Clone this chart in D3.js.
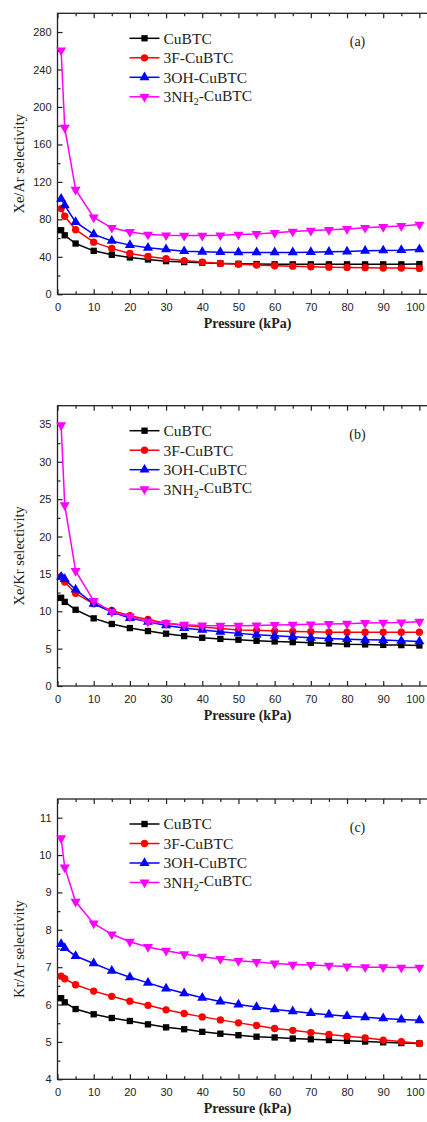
<!DOCTYPE html>
<html>
<head>
<meta charset="utf-8">
<script src="https://cdnjs.cloudflare.com/ajax/libs/d3/7.8.5/d3.min.js"></script>
<style>
  body { margin: 0; background: #fff; }
  svg { display: block; }
</style>
</head>
<body>
<div id="main"></div>
<script>
var pressure = [1, 2, 5, 10, 15, 20, 25, 30, 35, 40, 45, 50, 55, 60, 65, 70, 75, 80, 85, 90, 95, 100];
var names = ["CuBTC", "3F-CuBTC", "3OH-CuBTC", "3NH2-CuBTC"];

// (a) Xe/Ar
var xeArCu  = [68.4, 63, 54.2, 46.4, 42.2, 39.3, 37.2, 35.4, 34.4, 33.7, 33, 32.6, 32.3, 32, 32, 32, 32, 32, 32, 32, 32, 32.3];
var xeArF   = [91.5, 83.3, 69, 55.7, 49, 43.6, 40.4, 38, 36, 34.4, 33, 32, 31.2, 30.5, 30, 29.4, 29, 28.7, 28.4, 28, 28, 27.6];
var xeArOH  = [102, 95, 77, 64, 57, 52.5, 49.6, 47.9, 46, 45.4, 45, 44.7, 44.7, 44.7, 44.7, 45, 45.4, 45.7, 46.4, 46.8, 47.1, 47.9];
var xeArNH2 = [260.5, 178, 111.7, 82, 71, 66.6, 63.8, 63, 62.7, 62.7, 63, 63.8, 64.5, 65.6, 67, 68, 68.8, 69.8, 71, 72, 73, 74.4];

// (b) Xe/Kr
var xeKrCu  = [11.8, 11.25, 10.2, 9.05, 8.3, 7.75, 7.35, 7.0, 6.68, 6.45, 6.3, 6.19, 6.05, 5.96, 5.87, 5.78, 5.7, 5.6, 5.56, 5.5, 5.47, 5.42];
var xeKrF   = [14.6, 13.9, 12.4, 11.0, 10.1, 9.4, 8.9, 8.4, 8.1, 7.9, 7.7, 7.5, 7.45, 7.35, 7.3, 7.26, 7.2, 7.2, 7.2, 7.2, 7.2, 7.2];
var xeKrOH  = [14.6, 14.3, 12.9, 11.0, 9.9, 9.1, 8.6, 8.1, 7.75, 7.5, 7.26, 7.04, 6.86, 6.72, 6.6, 6.45, 6.36, 6.27, 6.19, 6.14, 6.05, 5.96];
var xeKrNH2 = [34.9, 24.2, 15.4, 11.4, 9.9, 9.3, 8.6, 8.4, 8.2, 8.1, 8.07, 8.07, 8.1, 8.16, 8.2, 8.25, 8.3, 8.34, 8.43, 8.47, 8.5, 8.6];

// (c) Kr/Ar
var krArCu  = [6.17, 6.06, 5.88, 5.74, 5.64, 5.56, 5.47, 5.39, 5.34, 5.27, 5.22, 5.18, 5.14, 5.12, 5.09, 5.07, 5.05, 5.03, 5.01, 4.99, 4.97, 4.96];
var krArF   = [6.76, 6.69, 6.53, 6.36, 6.22, 6.09, 5.98, 5.86, 5.76, 5.67, 5.59, 5.51, 5.44, 5.36, 5.31, 5.25, 5.2, 5.15, 5.11, 5.05, 5.01, 4.96];
var krArOH  = [7.62, 7.51, 7.3, 7.1, 6.9, 6.73, 6.58, 6.43, 6.3, 6.18, 6.08, 6.0, 5.93, 5.87, 5.82, 5.77, 5.73, 5.69, 5.66, 5.63, 5.6, 5.58];
var krArNH2 = [10.45, 9.67, 8.75, 8.17, 7.88, 7.68, 7.54, 7.44, 7.35, 7.28, 7.22, 7.17, 7.14, 7.1, 7.07, 7.06, 7.04, 7.02, 7.0, 7.0, 6.99, 6.99];

var xTicks = [0, 10, 20, 30, 40, 50, 60, 70, 80, 90, 100];
var yTicksA = [0, 40, 80, 120, 160, 200, 240, 280];
var yTicksB = [0, 5, 10, 15, 20, 25, 30, 35];
var yTicksC = [4, 5, 6, 7, 8, 9, 10, 11];

var colors = ["#000000", "#ff0000", "#0000ff", "#ff00ff"];
var symbols = [d3.symbolSquare, d3.symbolCircle, d3.symbolTriangle, d3.symbolTriangle];
var symSizes = [40, 42, 44, 44];

var outerWidth = 427;
var outerHeight = 1122;
var marginLeft = 57.5;
var innerWidth = 380;   // frame runs past the right edge, as in the original crop

var svg = d3.select("#main")
    .append("svg")
    .attr("width", outerWidth)
    .attr("height", outerHeight);

var xScale = d3.scaleLinear().domain([0, 105]).range([0, innerWidth]);
var serif = "'Liberation Serif', 'Times New Roman', serif";

function drawPanel(top, bottom, yDomain, yTicks, yMinor, yLabel, tag, series) {
    var innerHeight = bottom - top;
    var yScale = d3.scaleLinear().domain(yDomain).range([innerHeight, 0]);

    var g = svg.append("g")
        .attr("transform", "translate(" + marginLeft + "," + top + ")");

    g.append("rect")
        .attr("width", innerWidth)
        .attr("height", innerHeight)
        .attr("fill", "none")
        .attr("stroke", "#222")
        .attr("stroke-width", 1.3);

    var xMinor = d3.range(5, 105, 10);

    // ticks all point inward
    var xAxisG = g.append("g")
        .attr("transform", "translate(0," + innerHeight + ")")
        .call(d3.axisBottom(xScale).tickValues(xTicks).tickSize(-5).tickPadding(9));
    xAxisG.append("g").call(d3.axisBottom(xScale).tickValues(xMinor).tickSize(-3).tickFormat(""));
    // last label sits at the page edge: right-align it so it stays readable
    xAxisG.selectAll(".tick text").filter(d => d == 100)
        .attr("text-anchor", "end")
        .attr("x", outerWidth - marginLeft - 3 - xScale(100));

    var topG = g.append("g")
        .call(d3.axisTop(xScale).tickValues(xTicks).tickSize(-5).tickFormat(""));
    topG.append("g").call(d3.axisTop(xScale).tickValues(xMinor).tickSize(-3).tickFormat(""));

    var yAxisG = g.append("g")
        .call(d3.axisLeft(yScale).tickValues(yTicks).tickSize(-5).tickPadding(6));
    yAxisG.append("g").call(d3.axisLeft(yScale).tickValues(yMinor).tickSize(-3).tickFormat(""));

    g.selectAll(".domain").remove();
    g.selectAll(".tick text").filter(function(){ return this.textContent == ""; }).remove();
    g.selectAll(".tick line").attr("stroke", "#222").attr("stroke-width", 1.2);
    g.selectAll(".tick text")
        .attr("fill", "#222")
        .style("font-family", "'Liberation Sans', Arial, sans-serif")
        .style("font-size", "11px");

    g.append("text")
        .attr("transform", "translate(-37," + (innerHeight / 2 + 10) + ") rotate(-90)")
        .attr("text-anchor", "middle")
        .attr("dominant-baseline", "middle")
        .style("font-family", serif)
        .style("font-size", "14.5px")
        .attr("fill", "#222")
        .text(yLabel);

    g.append("text")
        .attr("x", innerWidth / 2)
        .attr("y", innerHeight + 34)
        .attr("text-anchor", "middle")
        .style("font-family", serif)
        .style("font-size", "14px")
        .style("font-weight", "bold")
        .attr("fill", "#222")
        .text("Pressure (kPa)");

    var line = d3.line()
        .x(d => xScale(d[0]))
        .y(d => yScale(d[1]));

    series.forEach(function(vals, i){
        var pts = pressure.map((p, j) => [p, vals[j]]);
        g.append("path")
            .datum(pts)
            .attr("d", line)
            .attr("fill", "none")
            .attr("stroke", colors[i])
            .attr("stroke-width", 1.5);
        g.selectAll(".m" + i)
            .data(pts)
            .enter()
            .append("path")
            .attr("class", "m" + i)
            .attr("d", d3.symbol().type(symbols[i]).size(symSizes[i]))
            .attr("fill", colors[i])
            .attr("transform", d => "translate(" + xScale(d[0]) + "," + yScale(d[1]) + ")" + (i == 3 ? " rotate(180)" : ""));
    });

    var legend = g.append("g").attr("transform", "translate(72,25)");
    names.forEach(function(n, i){
        var row = legend.append("g").attr("transform", "translate(0," + (i * 19.5) + ")");
        row.append("line")
            .attr("x1", 0).attr("x2", 30)
            .attr("stroke", colors[i])
            .attr("stroke-width", 1.5);
        row.append("path")
            .attr("d", d3.symbol().type(symbols[i]).size(symSizes[i]))
            .attr("fill", colors[i])
            .attr("transform", "translate(15,0)" + (i == 3 ? " rotate(180)" : ""));
        var t = row.append("text")
            .attr("x", 34)
            .attr("dy", "0.35em")
            .style("font-family", serif)
            .style("font-size", "15.5px")
            .attr("fill", "#222");
        if (n == "3NH2-CuBTC") {
            t.append("tspan").text("3NH");
            t.append("tspan").attr("dy", "0.3em").style("font-size", "10px").text("2");
            t.append("tspan").attr("dy", "-0.3em").text("-CuBTC");
        } else {
            t.text(n);
        }
    });

    g.append("text")
        .attr("x", 300)
        .attr("y", 28)
        .attr("text-anchor", "middle")
        .attr("dy", "0.35em")
        .style("font-family", serif)
        .style("font-size", "14px")
        .attr("fill", "#222")
        .text(tag);
}

drawPanel(13.3, 294.3, [0, 300], yTicksA, d3.range(20, 300, 40), "Xe/Ar selectivity", "(a)",
    [xeArCu, xeArF, xeArOH, xeArNH2]);
drawPanel(405.7, 686, [0, 37.5], yTicksB, d3.range(2.5, 37.5, 5), "Xe/Kr selectivity", "(b)",
    [xeKrCu, xeKrF, xeKrOH, xeKrNH2]);
drawPanel(799, 1079.3, [4, 11.5], yTicksC, d3.range(4.5, 11.5, 1), "Kr/Ar selectivity", "(c)",
    [krArCu, krArF, krArOH, krArNH2]);
</script>
</body>
</html>
